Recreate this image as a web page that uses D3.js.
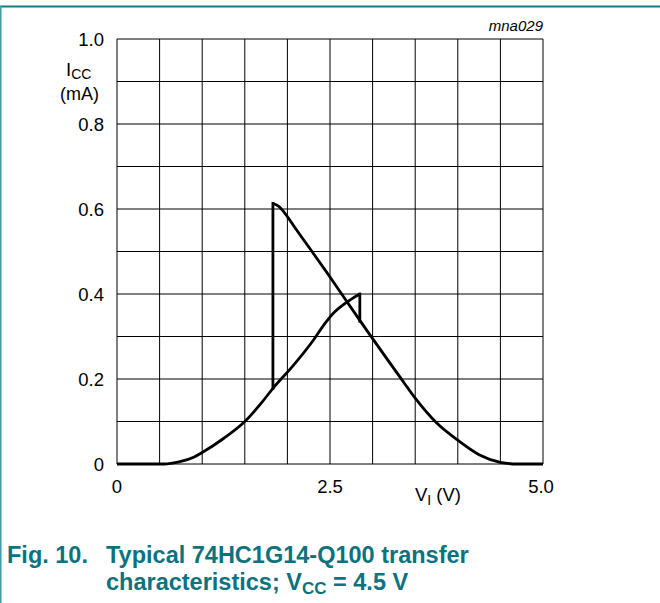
<!DOCTYPE html>
<html><head><meta charset="utf-8">
<script src="https://cdn.jsdelivr.net/npm/d3@7"></script>
<style>html,body{margin:0;padding:0;background:#fff}svg{display:block}text{font-family:"Liberation Sans",Arial,sans-serif}</style>
</head><body>
<script>
// Data
const yTicks = [0, 0.2, 0.4, 0.6, 0.8, 1.0];
const yTickLabels = ["0", "0.2", "0.4", "0.6", "0.8", "1.0"];
const xTicks = [0, 2.5, 5.0];
const xTickLabels = ["0", "2.5", "5.0"];
// rising (input increasing) branch
const risingV = [0, 0.55, 0.65, 0.75, 0.9, 1.0, 1.25, 1.5, 1.7, 1.83, 2.07, 2.3, 2.45, 2.55, 2.65, 2.75, 2.85];
const risingI = [0, 0, 0.002, 0.006, 0.016, 0.027, 0.06, 0.1, 0.145, 0.178, 0.232, 0.29, 0.333, 0.357, 0.374, 0.388, 0.40];
// falling (input decreasing) branch
const fallingV = [1.83, 1.9, 1.955, 2.1, 2.5, 2.85, 3.32, 3.5, 3.75, 4.0, 4.25, 4.5, 4.7, 5.0];
const fallingI = [0.613, 0.606, 0.594, 0.553, 0.44, 0.338, 0.205, 0.155, 0.097, 0.056, 0.022, 0.004, 0, 0];
// switching jumps
const jumpV = [1.83, 2.85];
const jumpLow = [0.178, 0.336];
const jumpHigh = [0.613, 0.40];

const W = 660, H = 603;
const svg = d3.select("body").append("svg").attr("width", W).attr("height", H);

const x = d3.scaleLinear().domain([0, 5]).range([117, 543]);
const y = d3.scaleLinear().domain([0, 1]).range([464, 39]);

// page frame (teal)
svg.append("rect").attr("x", 0).attr("y", 5.5).attr("width", W).attr("height", 2).attr("fill", "#0a7f8c");
svg.append("rect").attr("x", 0).attr("y", 6).attr("width", 1.5).attr("height", H).attr("fill", "#3d9ea8");

// grid
const g = svg.append("g");
g.selectAll("line.v").data(d3.range(0, 5.0001, 0.5)).join("line")
  .attr("x1", d => x(d)).attr("x2", d => x(d)).attr("y1", y(0)).attr("y2", y(1))
  .attr("stroke", "#000").attr("stroke-width", 1);
g.selectAll("line.h").data(d3.range(0, 1.0001, 0.1)).join("line")
  .attr("y1", d => y(d)).attr("y2", d => y(d)).attr("x1", x(0)).attr("x2", x(5))
  .attr("stroke", "#000").attr("stroke-width", 1);

// curves
const line = d3.line().x(d => x(d[0])).y(d => y(d[1])).curve(d3.curveMonotoneX);
const rising = risingV.map((v, i) => [v, risingI[i]]);
const falling = fallingV.map((v, i) => [v, fallingI[i]]);
svg.append("path").attr("d", line(rising)).attr("fill", "none").attr("stroke", "#000").attr("stroke-width", 2.8).attr("stroke-linejoin", "round");
svg.append("path").attr("d", line(falling)).attr("fill", "none").attr("stroke", "#000").attr("stroke-width", 2.8).attr("stroke-linejoin", "round");
svg.selectAll("line.jump").data(jumpV).join("line")
  .attr("x1", d => x(d)).attr("x2", d => x(d))
  .attr("y1", (d, i) => y(jumpLow[i])).attr("y2", (d, i) => y(jumpHigh[i]))
  .attr("stroke", "#000").attr("stroke-width", 2.8).attr("stroke-linecap", "square");

// y tick labels
svg.selectAll("text.yt").data(yTicks).join("text")
  .attr("x", 104).attr("y", d => y(d) + 6.5).attr("text-anchor", "end")
  .attr("font-size", 18.5).attr("fill", "#000").text((d, i) => yTickLabels[i]);
// x tick labels
svg.selectAll("text.xt").data(xTicks).join("text")
  .attr("x", d => x(d) - (d === 5 ? 2 : 0)).attr("y", 493).attr("text-anchor", "middle")
  .attr("font-size", 18.5).attr("fill", "#000").text((d, i) => xTickLabels[i]);

// axis titles
const yt = svg.append("text").attr("x", 66).attr("y", 76).attr("font-size", 18.5);
yt.append("tspan").text("I");
yt.append("tspan").attr("font-size", 14).attr("dy", 3).text("CC");
svg.append("text").attr("x", 60).attr("y", 100).attr("font-size", 18).text("(mA)");

const xt = svg.append("text").attr("x", 415).attr("y", 501).attr("font-size", 18.5);
xt.append("tspan").text("V");
xt.append("tspan").attr("font-size", 14).attr("dy", 4).text("I");
xt.append("tspan").attr("dy", -4).text(" (V)");

svg.append("text").attr("x", 543).attr("y", 31).attr("text-anchor", "end")
  .attr("font-size", 15).attr("font-style", "italic").text("mna029");

// caption
const teal = "#0b7380";
svg.append("text").attr("x", 7).attr("y", 563).attr("font-size", 23.5).attr("font-weight", "bold").attr("fill", teal).text("Fig. 10.");
svg.append("text").attr("x", 106).attr("y", 563).attr("font-size", 23.5).attr("font-weight", "bold").attr("fill", teal).text("Typical 74HC1G14-Q100 transfer");
const c2 = svg.append("text").attr("x", 106).attr("y", 590).attr("font-size", 23.5).attr("font-weight", "bold").attr("fill", teal);
c2.append("tspan").text("characteristics; V");
c2.append("tspan").attr("font-size", 17).attr("dy", 4).text("CC");
c2.append("tspan").attr("dy", -4).text(" = 4.5 V");
</script>
</body></html>
